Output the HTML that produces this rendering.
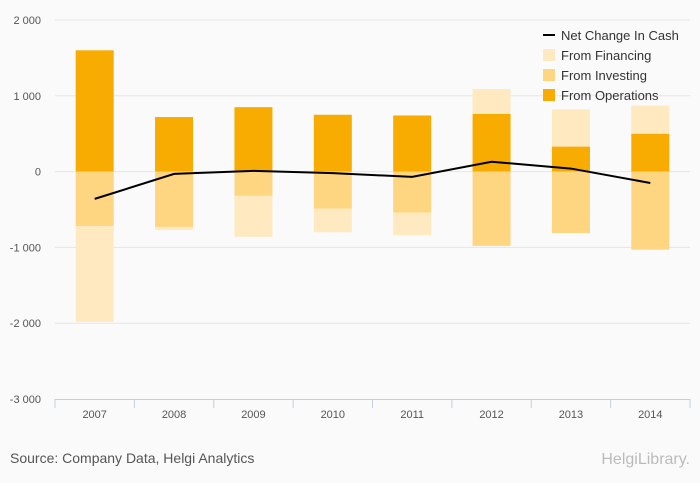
<!DOCTYPE html>
<html><head><meta charset="utf-8">
<style>
body{margin:0;background:#fafafa;font-family:"Liberation Sans",sans-serif;}
svg{display:block}
text{font-family:"Liberation Sans",sans-serif;}
</style></head>
<body>
<svg id="chart" width="700" height="483" viewBox="0 0 700 483">
<rect x="0" y="0" width="700" height="483" fill="#fafafa"/>
<g id="grid"></g>
<g id="bars"></g>
<g id="line"></g>
<g id="axes"></g>
<g>
 <g><line x1="543" y1="35" x2="555" y2="35" stroke="#000" stroke-width="2"/><text x="561" y="40" font-size="13" fill="#333">Net Change In Cash</text></g>
 <g><rect x="543" y="49" width="12" height="12" fill="#fee9c0"/><text x="561" y="60" font-size="13" fill="#333">From Financing</text></g>
 <g><rect x="543" y="69" width="12" height="12" fill="#fed581"/><text x="561" y="80" font-size="13" fill="#333">From Investing</text></g>
 <g><rect x="543" y="89" width="12" height="12" fill="#f8ab00"/><text x="561" y="100" font-size="13" fill="#333">From Operations</text></g>
</g>
<text x="10" y="463" font-size="14" fill="#555">Source: Company Data, Helgi Analytics</text>
<text x="690" y="464" font-size="16" fill="#bbb" text-anchor="end">HelgiLibrary.</text>
</svg>
<script>
const categories=["2007","2008","2009","2010","2011","2012","2013","2014"];
const operations=[1600,720,850,750,740,760,330,500];
const investing=[-720,-730,-320,-490,-540,-980,-810,-1030];
const financing=[-1260,-40,-540,-310,-300,330,490,370];
const netChange=[-360,-30,10,-20,-70,130,40,-150];
const yTicks=[2000,1000,0,-1000,-2000,-3000];
const yTickLabels=["2 000","1 000","0","-1 000","-2 000","-3 000"];

const NS="http://www.w3.org/2000/svg";
const X0=55,X1=690,Y0=20,Y1=399,vMax=2000,vMin=-3000;
const band=(X1-X0)/categories.length;
const y=v=>Y0+(vMax-v)/(vMax-vMin)*(Y1-Y0);
const xc=i=>X0+band*(i+0.5);
function mk(t,a,p){const e=document.createElementNS(NS,t);for(const k in a)e.setAttribute(k,a[k]);p.appendChild(e);return e;}
const grid=document.getElementById('grid'),axes=document.getElementById('axes'),bars=document.getElementById('bars'),lineG=document.getElementById('line');
yTicks.forEach((v,i)=>{
 if(v!==vMin){const l=mk('line',{x1:X0,x2:X1,y1:y(v),y2:y(v),stroke:'#e6e6e6','stroke-width':1},grid);
 
 }
 const t=mk('text',{x:41,y:y(v)+4,'font-size':11,fill:'#555','text-anchor':'end'},axes);
 t.textContent=yTickLabels[i];
 
 
});
const ax=mk('line',{x1:X0,x2:X1,y1:Y1+0.5,y2:Y1+0.5,stroke:'#c0d0e0','stroke-width':1},axes);


for(let i=0;i<=categories.length;i++){
 const tk=mk('line',{x1:X0+band*i,x2:X0+band*i,y1:Y1,y2:Y1+9,stroke:'#c0d0e0'},axes);
 
 
}
categories.forEach((c,i)=>{
 const t=mk('text',{x:xc(i),y:Y1+19,'font-size':11,fill:'#555','text-anchor':'middle'},axes);
 t.textContent=c;
 
 
});
const bw=38;
const series=[[operations,'#f8ab00','operations'],[investing,'#fed581','investing'],[financing,'#fee9c0','financing']];
categories.forEach((c,i)=>{
 let pos=0,neg=0;
 series.forEach(([arr,col,nm])=>{
  const v=arr[i];let a,b;
  if(v>=0){a=pos;b=pos+v;pos=b;}else{a=neg;b=neg+v;neg=b;}
  const top=y(Math.max(a,b)),bot=y(Math.min(a,b));
  const r=mk('rect',{x:xc(i)-bw/2,y:top,width:bw,height:bot-top,fill:col},bars);
  
  
 });
});
const p=mk('polyline',{points:netChange.map((v,i)=>xc(i)+','+y(v)).join(' '),fill:'none',stroke:'#000','stroke-width':2},lineG);


</script>
</body></html>
